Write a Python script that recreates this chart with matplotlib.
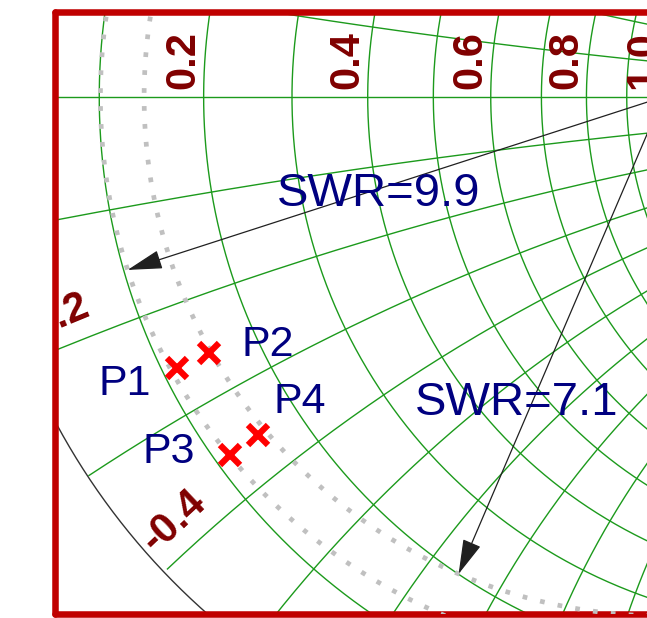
import numpy as np
import matplotlib.pyplot as plt

plt.rcParams['font.family'] = ['Liberation Sans', 'DejaVu Sans']

# Smith chart grid values (normalised resistance / reactance)
r_grid = [0.1, 0.2, 0.3, 0.4, 0.5, 0.6, 0.7, 0.8, 0.9, 1.0, 1.2, 1.4, 1.6, 1.8, 2.0, 3.0, 4.0, 5.0]
x_grid = [0.1, 0.2, 0.3, 0.4, 0.5, 0.6, 0.7, 0.8, 0.9, 1.0, 1.2, 1.4, 1.6, 1.8, 2.0, 3.0, 4.0, 5.0]
r_labels = [0.2, 0.4, 0.6, 0.8, 1.0]
x_labels = [-0.2, -0.4]

# measured points as reflection coefficients
point_names = ['P1', 'P2', 'P3', 'P4']
gamma_re = [-0.706, -0.659, -0.628, -0.588]
gamma_im = [-0.394, -0.371, -0.520, -0.491]

# SWR circles and the angle of their arrows (degrees)
swr_values = [9.9, 7.1]
swr_angles = [197.9, 246.8]

GREEN = '#1c9a1c'
PX = 1 / 689.0  # one pixel in chart units


def gamma(z):
    return (z - 1) / (z + 1)


fig = plt.figure(figsize=(6.47, 6.18), dpi=100)
ax = fig.add_axes([55 / 647, 4.5 / 618, 645 / 647, 602 / 618])
ax.set_xlim(-0.8824, 0.0537)
ax.set_ylim(-0.7496, 0.1241)
ax.set_xticks([])
ax.set_yticks([])
for sp in ax.spines.values():
    sp.set_color('#c00000')
    sp.set_linewidth(4.7)
    sp.set_capstyle('round')

t = np.linspace(0, 2 * np.pi, 2000)

# constant resistance circles
for r in r_grid:
    c, rad = r / (1 + r), 1 / (1 + r)
    ax.plot(c + rad * np.cos(t), rad * np.sin(t), color=GREEN, lw=1.0, zorder=1)

# constant reactance arcs, kept inside the unit circle
for xv in x_grid:
    for s in (1, -1):
        c = 1 + 1j * s / xv
        pts = c + (1 / xv) * np.exp(1j * t)
        pts = np.where(np.abs(pts) <= 1.0001, pts, np.nan)
        ax.plot(pts.real, pts.imag, color=GREEN, lw=1.0, zorder=1)
ax.plot([-1, 1], [0, 0], color=GREEN, lw=1.0, zorder=1)

# unit circle
ax.plot(np.cos(t), np.sin(t), color='#333333', lw=1.0, zorder=2)

# resistance labels along the real axis
for r in r_labels:
    g = gamma(r)
    ax.text(g - 9 * PX, 8 * PX, f'{r:.1f}', rotation=90, rotation_mode='anchor',
            ha='left', va='baseline', fontsize=30, fontweight='bold',
            color='#800000', clip_on=True, zorder=6)

# reactance labels near the rim
for xv in x_labels:
    g0 = gamma(1j * xv)
    g1 = gamma(0.02 + 1j * xv)
    d = (g1 - g0) / abs(g1 - g0)
    perp = d * 1j
    pos = g0 + 6 * PX * d + 19 * PX * perp
    ax.text(pos.real, pos.imag, f'{xv:.1f}', rotation=np.degrees(np.angle(d)),
            rotation_mode='anchor', ha='left', va='baseline', fontsize=30,
            fontweight='bold', color='#800000', clip_on=True, zorder=6)

# SWR circles with arrows
swr_text_pos = [(-0.4122, -0.1401), (-0.2119, -0.4441)]
for swr, ang, tp in zip(swr_values, swr_angles, swr_text_pos):
    mag = (swr - 1) / (swr + 1)
    ax.plot(mag * np.cos(t), mag * np.sin(t), color='#c0c0c0', lw=3.4,
            linestyle=(0, (1, 2.8)), zorder=3)
    end = (mag * np.cos(np.radians(ang)), mag * np.sin(np.radians(ang)))
    ax.annotate('', xy=end, xytext=(0, 0),
                arrowprops=dict(arrowstyle='-|>,head_length=1.1,head_width=0.3',
                                mutation_scale=20, lw=0.9, color='#202020',
                                shrinkA=0, shrinkB=0), zorder=4)
    ax.text(tp[0], tp[1], f'SWR={swr}', ha='center', va='center',
            fontsize=34, color='#000080', zorder=6)

# points
ax.plot(gamma_re, gamma_im, 'x', ms=15, mew=4.5, color='#ff0000', zorder=5)
label_offsets = [(-52, -16), (59, 8), (-62, 3), (42, 33)]
for name, re, im, off in zip(point_names, gamma_re, gamma_im, label_offsets):
    ax.annotate(name, (re, im), xytext=off, textcoords='offset pixels',
                ha='center', va='center', fontsize=31, color='#000080', zorder=6)

fig.savefig('out.png', dpi=100)
